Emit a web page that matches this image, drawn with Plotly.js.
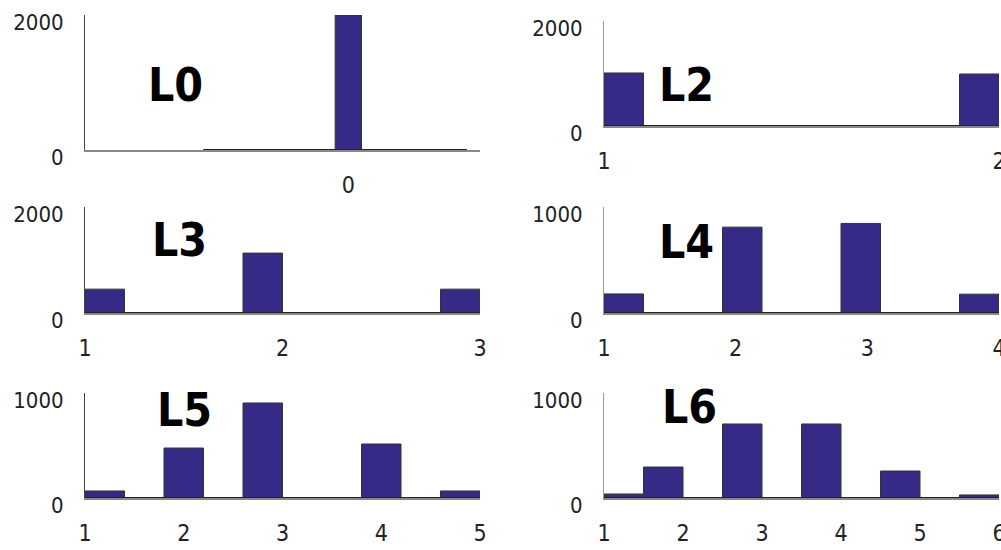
<!DOCTYPE html>
<html>
<head>
<meta charset="utf-8">
<script src="https://cdn.plot.ly/plotly-3.0.1.min.js"></script>
<style>html,body{margin:0;padding:0;background:#fff;}#chart{width:1001px;height:550px;}</style>
</head>
<body>
<div id="chart"></div>
<script>
// ---- data ----
const panelLabels = ["L0", "L2", "L3", "L4", "L5", "L6"];
const binLo = [-0.55, 1, 1, 1, 1, 1];
const binHi = [0.45, 2, 3, 4, 5, 6];
const countsL0 = [0, 0, 0, 0, 0, 2000, 0, 0, 0, 0];
const countsL2 = [1010, 0, 0, 0, 0, 0, 0, 0, 0, 990];
const countsL3 = [450, 0, 0, 0, 1130, 0, 0, 0, 0, 450];
const countsL4 = [180, 0, 0, 810, 0, 0, 845, 0, 0, 178];
const countsL5 = [67, 0, 476, 0, 905, 0, 0, 514, 0, 67];
const countsL6 = [38, 295, 0, 705, 0, 705, 0, 257, 0, 29];
const xTickVals = [[0], [1, 2], [1, 2, 3], [1, 2, 3, 4], [1, 2, 3, 4, 5], [1, 2, 3, 4, 5, 6]];
const yTickMax = [2000, 2000, 2000, 1000, 1000, 1000];

const allCounts = [countsL0, countsL2, countsL3, countsL4, countsL5, countsL6];

// ---- layout geometry ----
const W = 1001, H = 550;
const xRanges = [[-1, 0.5], [1, 2], [1, 3], [1, 4], [1, 5], [1, 6]];
const xDomPx = [[85, 480], [604, 999], [85, 480], [604, 999], [85, 480], [604, 999]];
const yDomPx = [[15, 150], [21, 126], [207, 313], [207, 313], [393, 498], [393, 498]];
const labelPos = [[146, 85], [657, 85], [150, 240], [657, 242], [155, 410], [660, 407]];

const barColor = "#352a85";
const narrow = "Liberation Sans Narrow, DejaVu Sans Condensed, sans-serif";
const data = [];
const layout = {
  width: W, height: H,
  margin: {l: 0, r: 0, t: 0, b: 0},
  paper_bgcolor: "#fff", plot_bgcolor: "#fff",
  showlegend: false,
  bargap: 0,
  annotations: [],
  font: {family: narrow, color: "#222"}
};

for (let i = 0; i < 6; i++) {
  const sfx = i === 0 ? "" : String(i + 1);
  const counts = allCounts[i];
  const n = counts.length;
  const w = (binHi[i] - binLo[i]) / n;
  const centers = counts.map((_, k) => binLo[i] + w * (k + 0.5));
  const axColor = (i % 2 === 0) ? "#444" : "#9a9a9a";

  data.push({
    type: "bar", x: centers, y: counts, width: w,
    xaxis: "x" + sfx, yaxis: "y" + sfx,
    marker: {color: barColor, line: {color: "#333", width: 1}},
    hoverinfo: "none"
  });
  data.push({
    type: "scatter", mode: "lines",
    x: [binLo[i], binHi[i]], y: [0, 0],
    xaxis: "x" + sfx, yaxis: "y" + sfx,
    line: {color: "#222", width: 2}, cliponaxis: false, hoverinfo: "none"
  });

  layout["xaxis" + sfx] = {
    domain: [xDomPx[i][0] / W, xDomPx[i][1] / W],
    range: xRanges[i],
    anchor: "y" + sfx,
    showgrid: false, zeroline: false,
    showline: true, linecolor: "#888", linewidth: 1.5,
    ticks: "", tickmode: "array", tickvals: xTickVals[i],
    ticktext: xTickVals[i].map(String),
    ticklabelstandoff: 14, ticklabeloverflow: "allow",
    tickfont: {family: narrow, size: 23, color: "#222"},
    fixedrange: true
  };
  layout["yaxis" + sfx] = {
    domain: [1 - yDomPx[i][1] / H, 1 - yDomPx[i][0] / H],
    range: [0, yTickMax[i]],
    anchor: "x" + sfx,
    showgrid: false, zeroline: false,
    showline: true, linecolor: axColor, linewidth: 1,
    ticks: "inside", ticklen: 3, tickcolor: axColor, tickwidth: 1,
    tickmode: "array", tickvals: [0, yTickMax[i]],
    ticktext: [String(0), String(yTickMax[i])],
    ticklabelstandoff: 16, ticklabelshift: 7, ticklabeloverflow: "allow",
    tickfont: {family: narrow, size: 22, color: "#222"},
    fixedrange: true
  };

  layout.annotations.push({
    text: "<b>" + panelLabels[i] + "</b>", showarrow: false,
    xref: "paper", yref: "paper",
    x: labelPos[i][0] / W, y: 1 - labelPos[i][1] / H,
    xanchor: "left", yanchor: "middle",
    font: {family: narrow, size: 46, color: "#000"}
  });
}

Plotly.newPlot("chart", data, layout, {displayModeBar: false, staticPlot: true});
</script>
</body>
</html>
